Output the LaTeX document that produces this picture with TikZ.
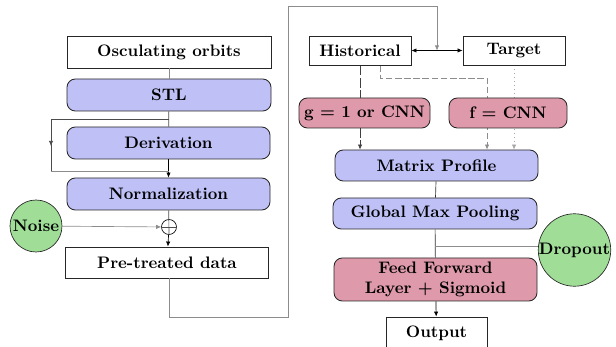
\documentclass[tikz,border=0pt]{standalone}
\usepackage{amsmath,amssymb}
\usepackage{tikz}
\usetikzlibrary{positioning,arrows.meta,calc,backgrounds}
\definecolor{albastru}{RGB}{190,192,246}
\definecolor{roz}{RGB}{222,153,170}
\definecolor{verde}{RGB}{160,222,152}
\tikzset{
  casuta/.style    = {draw=black!85, line width=0.5pt, fill=white, align=center,
                      inner sep=2pt, font=\bfseries\boldmath, minimum height=19.2pt},
  modul/.style     = {casuta, rounded corners=5pt, fill=albastru},
  strat/.style     = {casuta, rounded corners=5pt, fill=roz},
  cerc/.style      = {draw=black!85, circle, fill=verde, inner sep=0pt, font=\bfseries},
  suma/.style      = {draw, circle, inner sep=0pt, minimum size=9pt},
  fir/.style       = {draw=black!45},
  varf/.style      = {-{Latex[length=3pt,width=2.6pt]}},
  lung/.style      = {varf, black!75, dash pattern=on 6pt off 1.5pt},
  intrerupt/.style = {varf, black!45, dash pattern=on 4pt off 1.5pt},
  punctat/.style   = {varf, black!35, dotted}
}

\begin{document}
\begin{tikzpicture}[x=0.6pt, y=-0.6pt]
  \useasboundingbox (0,0) rectangle (616,347);

  % coloana stanga
  \node[casuta, minimum width=122.4pt] (orbite) at (169,52) {Osculating orbits};
  \node[modul, minimum width=122.4pt] (stl) at (169,95) {STL};
  \node[modul, minimum width=121.8pt] (deriv) at (168.5,143) {Derivation};
  \node[modul, minimum width=121.8pt] (norm) at (168.5,194) {Normalization};
  \node[suma] (plus) at (169,227) {};
  \node[cerc, minimum size=31.2pt] (zgomot) at (36,226) {Noise};
  \node[casuta, minimum width=121.8pt, minimum height=18.6pt] (pre) at (167,262.5) {Pre-treated data};

  % coloana dreapta
  \node[casuta, minimum width=61.2pt, minimum height=17.4pt] (istoric) at (360,50.5) {Historical};
  \node[casuta, minimum width=61.2pt, minimum height=17.4pt] (tinta) at (514,50.5) {Target};
  \node[strat, minimum width=78.6pt, minimum height=18pt] (gfun) at (364.5,113) {g $=$ 1 or CNN};
  \node[strat, minimum width=70.8pt, minimum height=18pt] (ffun) at (508,113) {f $=$ CNN};
  \node[modul, minimum width=121.8pt, minimum height=18.6pt] (profil) at (436.5,165.5) {Matrix Profile};
  \node[modul, minimum width=122.4pt, minimum height=18.6pt] (pool) at (435,213.5) {Global Max Pooling};
  \node[cerc, minimum size=42.6pt] (drop) at (574.5,250) {Dropout};
  \node[strat, minimum width=121.8pt, minimum height=25.8pt] (ff) at (435.5,279.5)
      {Feed Forward\\ Layer $+$ Sigmoid};
  \node[casuta, minimum width=60.6pt] (iesire) at (436.5,333) {Output};

  % legaturi stanga
  \draw[fir] (orbite) -- (stl);
  \draw[black!70] (stl) -- (deriv);
  \draw[varf] (deriv) -- (norm);
  \coordinate (ramura) at ($(stl.south)!0.5!(deriv.north)$);
  \coordinate (colt) at (51,171);
  \draw[black!70] (ramura) -| (colt);
  \draw[fir] (colt) -- (colt -| deriv.south);
  \draw[varf, black!70] (ramura -| colt) -- ++(0,27);
  \draw[black!70] (norm) -- (plus.south);
  \draw[black!70] (plus.west) -- (plus.east);
  \draw[varf] (plus) -- (pre);
  \draw[varf, fir] (zgomot) -- (plus);

  % traseul lung spre dreapta
  \coordinate (cadru) at (288,6);
  \coordinate (jonct) at ($(istoric.east)!0.5!(tinta.west)$);
  \draw[varf, fir] (pre.south -| plus) -- ++(0,39) -| (cadru) -| (jonct);
  \draw[{Latex[length=3pt,width=2.6pt]}-{Latex[length=3pt,width=2.6pt]}] (istoric) -- (tinta);

  \begin{scope}[on background layer]
    \draw[lung] (istoric.south) -- (istoric.south |- profil.north);
    \coordinate (h2) at ($(istoric.south)+(20,0)$);
    \coordinate (cot) at (487,78);
    \draw[intrerupt] (h2) |- (cot) -- (cot |- profil.north);
    \draw[punctat] (tinta.south) -- (tinta.south |- profil.north);
  \end{scope}

  % legaturi dreapta
  \draw[black!80] (profil) -- (pool);
  \draw[black!80] (pool) -- (ff);
  \coordinate (ram) at ($(pool.south)+(0,17)$);
  \draw[fir] (ram) -- (ram -| drop.west);
  \draw[varf] (ff) -- (iesire);
\end{tikzpicture}
\end{document}
